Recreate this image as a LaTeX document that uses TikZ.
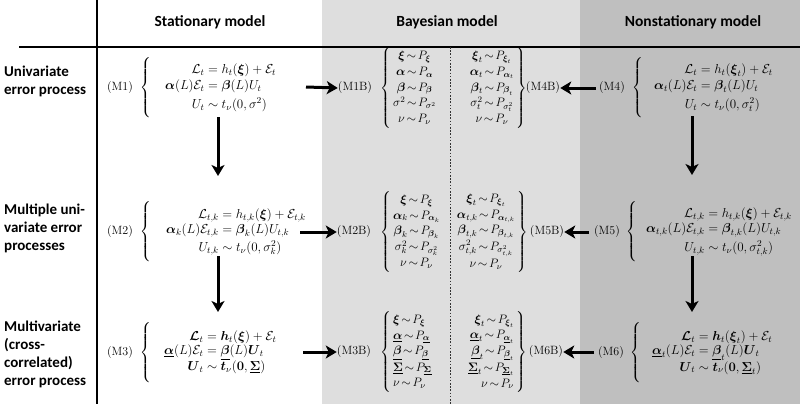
\RequirePackage{fix-cm}
\documentclass[tikz,border=0pt]{standalone}
\usepackage{amsmath,amssymb}
\usepackage{fontspec}
\newfontfamily\labfont{Carlito}
\usetikzlibrary{arrows.meta}
\definecolor{lightbg}{HTML}{DEDEDE}
\definecolor{darkbg}{HTML}{BFBFBF}
\newcommand\bXi{\boldsymbol\xi}
\newcommand\bAl{\boldsymbol\alpha}
\newcommand\bBe{\boldsymbol\beta}
\newcommand\uAl{\underline{\boldsymbol\alpha}}
\newcommand\uBe{\underline{\boldsymbol\beta}}
\newcommand\uSi{\underline{\boldsymbol\Sigma}}
\newcommand\cEr{\mathcal{E}}
\newcommand\tsim{\mathrel{\mkern-2.5mu\sim\mkern-2.5mu}}
\newcommand\bigbr{\left\{\rule[-27pt]{0pt}{56pt}\right.}
\begin{document}
\begin{tikzpicture}[x=1pt,y=-1pt,
  head/.style={font=\labfont\bfseries\fontsize{15.5}{18}\selectfont},
  rowlab/.style={font=\labfont\bfseries\fontsize{15}{18}\selectfont,align=left,anchor=west,inner sep=0pt},
  mlab/.style={font=\fontsize{12}{14}\selectfont,inner sep=0pt},
  eqn/.style={font=\fontsize{13}{14}\selectfont,inner sep=0pt,anchor=west},
  brace/.style={font=\fontsize{12.5}{14}\selectfont,inner sep=0pt},
  bay/.style={font=\fontsize{12.2}{14}\selectfont\setlength\arraycolsep{2pt},inner sep=0pt},
  arr/.style={line width=3pt,-{Stealth[length=11pt,width=13pt,inset=3pt]}},
  rule/.style={line width=2.6pt,black}]
\useasboundingbox (0,0) rectangle (800,404);
% backgrounds
\fill[lightbg] (322,0) rectangle (580,404);
\fill[darkbg] (580,0) rectangle (800,404);
% frame lines
\draw[rule] (19,47) -- (800,47);
\draw[rule] (97,0) -- (97,404);
\draw[line width=0.8pt,black!80,dash pattern=on 1.6pt off 1.6pt] (450,47) -- (450,404);
% headers
\node[head] (hs) at (210,22) {Stationary model};
\node[head] (hb) at (447,22) {Bayesian model};
\node[head] (hn) at (693,22) {Nonstationary model};
% row labels
\node[rowlab] (r1) at (4,81) {Univariate\\error process};
\node[rowlab] (r2) at (4,228) {Multiple uni-\\variate error\\processes};
\node[rowlab] (r3) at (4,354) {Multivariate\\(cross-\\correlated)\\error process};
% stationary
\node[mlab] (m1) at (120,88) {(M1)};
\node[brace] (b1) at (146,88) {$\bigbr$};
\node[eqn] (e1) at (165,88) {\setlength\jot{2.5pt}$\begin{aligned}
 \mathcal{L}_t &= h_t(\bXi)+\cEr_t\\
 \bAl(L)\cEr_t &= \bBe(L)U_t\\
 U_t &\sim t_\nu(0,\sigma^2)
\end{aligned}$};
\node[mlab] (m2) at (120,232) {(M2)};
\node[brace] (b2) at (146,232) {$\bigbr$};
\node[eqn] (e2) at (166,232) {\setlength\jot{1.5pt}$\begin{aligned}
 \mathcal{L}_{t,k} &= h_{t,k}(\bXi)+\cEr_{t,k}\\
 \bAl_k(L)\cEr_{t,k} &= \bBe_k(L)U_{t,k}\\
 U_{t,k} &\sim t_\nu(0,\sigma_k^2)
\end{aligned}$};
\node[mlab] (m3) at (120,353) {(M3)};
\node[brace] (b3) at (146,353) {$\bigbr$};
\node[eqn] (e3) at (164,353) {\setlength\jot{0pt}$\begin{aligned}
 \boldsymbol{\mathcal{L}}_t &= \boldsymbol{h}_t(\bXi)+\cEr_t\\
 \uAl(L)\cEr_t &= \uBe(L)\boldsymbol{U}_t\\
 \boldsymbol{U}_t &\sim \boldsymbol{t}_\nu(\boldsymbol{0},\uSi)
\end{aligned}$};
% nonstationary
\node[mlab] (m4) at (612,88) {(M4)};
\node[brace] (b4) at (638,88) {$\bigbr$};
\node[eqn] (e4) at (654,88) {\setlength\jot{2.5pt}$\begin{aligned}
 \mathcal{L}_t &= h_t(\bXi_t)+\cEr_t\\
 \bAl_t(L)\cEr_t &= \bBe_t(L)U_t\\
 U_t &\sim t_\nu(0,\sigma_t^2)
\end{aligned}$};
\node[mlab] (m5) at (607,232) {(M5)};
\node[brace] (b5) at (632,232) {$\bigbr$};
\node[eqn] (e5) at (646,232) {\setlength\jot{1.5pt}$\begin{aligned}
 \mathcal{L}_{t,k} &= h_{t,k}(\bXi)+\cEr_{t,k}\\
 \bAl_{t,k}(L)\cEr_{t,k} &= \bBe_{t,k}(L)U_{t,k}\\
 U_{t,k} &\sim t_\nu(0,\sigma_{t,k}^2)
\end{aligned}$};
\node[mlab] (m6) at (611,353) {(M6)};
\node[brace] (b6) at (636,353) {$\bigbr$};
\node[eqn] (e6) at (652,353) {\setlength\jot{0pt}$\begin{aligned}
 \boldsymbol{\mathcal{L}}_t &= \boldsymbol{h}_t(\bXi_t)+\cEr_t\\
 \uAl_t(L)\cEr_t &= \uBe_t(L)\boldsymbol{U}_t\\
 \boldsymbol{U}_t &\sim \boldsymbol{t}_\nu(\boldsymbol{0},\uSi_t)
\end{aligned}$};
% Bayesian
\renewcommand\arraystretch{1.12}
\node[mlab] (m1b) at (355,88) {(M1B)};
\node[bay,anchor=west] (bl1) at (380,88) {$\left\{\begin{array}{c}
 \bXi\tsim P_{\bXi}\\ \bAl\tsim P_{\bAl}\\ \bBe\tsim P_{\bBe}\\ \sigma^2\tsim P_{\sigma^2}\\ \nu\tsim P_\nu
\end{array}\right.$};
\node[bay,anchor=east] (br1) at (527,88) {$\left.\begin{array}{c}
 \bXi_t\tsim P_{\bXi_t}\\ \bAl_t\tsim P_{\bAl_t}\\ \bBe_t\tsim P_{\bBe_t}\\ \sigma_t^2\tsim P_{\sigma_t^2}\\ \nu\tsim P_\nu
\end{array}\right\}$};
\node[mlab] (m4b) at (543,88) {(M4B)};
\node[mlab] (m2b) at (354,232) {(M2B)};
\node[bay,anchor=west] (bl2) at (380,232) {$\left\{\begin{array}{c}
 \bXi\tsim P_{\bXi}\\ \bAl_k\tsim P_{\bAl_k}\\ \bBe_k\tsim P_{\bBe_k}\\ \sigma_k^2\tsim P_{\sigma_k^2}\\ \nu\tsim P_\nu
\end{array}\right.$};
\node[bay,anchor=east] (br2) at (528,232) {$\left.\begin{array}{c}
 \bXi_t\tsim P_{\bXi_t}\\ \bAl_{t,k}\tsim P_{\bAl_{t,k}}\\ \bBe_{t,k}\tsim P_{\bBe_{t,k}}\\ \sigma_{t,k}^2\tsim P_{\sigma_{t,k}^2}\\ \nu\tsim P_\nu
\end{array}\right\}$};
\node[mlab] (m5b) at (547,232) {(M5B)};
\node[mlab] (m3b) at (354,352) {(M3B)};
\node[bay,anchor=west] (bl3) at (380,352) {$\left\{\begin{array}{l}
 \bXi\tsim P_{\bXi}\\ \uAl\tsim P_{\uAl}\\ \uBe\tsim P_{\uBe}\\ \uSi\tsim P_{\uSi}\\ \nu\tsim P_\nu
\end{array}\right.$};
\node[bay,anchor=east] (br3) at (527,352) {$\left.\begin{array}{r}
 \bXi_t\tsim P_{\bXi_t}\\ \uAl_t\tsim P_{\uAl_t}\\ \uBe_t\tsim P_{\uBe_t}\\ \uSi_t\tsim P_{\uSi_t}\\ \nu\tsim P_\nu
\end{array}\right\}$};
\node[mlab] (m6b) at (546,352) {(M6B)};
% arrow end points
\coordinate (s1) at (306,87);
\coordinate (s2) at (300,232);
\coordinate (s3) at (303,352);
\coordinate (s4) at (596,88);
\coordinate (s5) at (589,232);
\coordinate (s6) at (594,352);
\coordinate (v1a) at (218,117); \coordinate (v1b) at (218,176);
\coordinate (v2a) at (218,256); \coordinate (v2b) at (218,312);
\coordinate (v3a) at (692,116); \coordinate (v3b) at (692,175);
\coordinate (v4a) at (692,256); \coordinate (v4b) at (692,312);
% arrows
\draw[arr] (s1) -- (m1b.west);
\draw[arr] (s2) -- (m2b.west);
\draw[arr] (s3) -- (m3b.west);
\draw[arr] (s4) -- (m4b.east);
\draw[arr] (s5) -- (m5b.east);
\draw[arr] (s6) -- (m6b.east);
\draw[arr] (v1a) -- (v1b);
\draw[arr] (v2a) -- (v2b);
\draw[arr] (v3a) -- (v3b);
\draw[arr] (v4a) -- (v4b);
\end{tikzpicture}
\end{document}
